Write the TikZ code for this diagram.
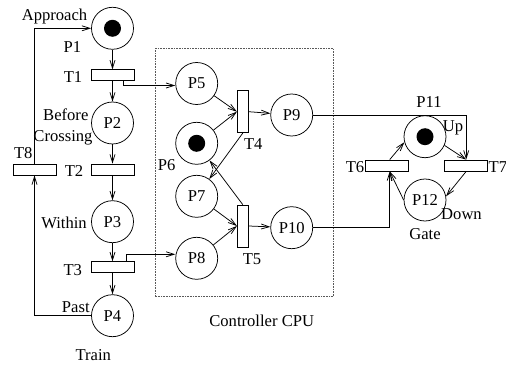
\documentclass[tikz,border=0pt]{standalone}
\usepackage{fontspec}
\setmainfont{Liberation Serif}
\usetikzlibrary{arrows.meta}
\begin{document}
\begin{tikzpicture}[x=1pt,y=-1pt,
  font=\fontsize{16.6}{19}\selectfont,
  line width=0.75pt,
  place/.style={draw,circle,minimum size=42pt,inner sep=0pt},
  htrans/.style={draw,rectangle,minimum width=43pt,minimum height=11pt,inner sep=0pt},
  vtrans/.style={draw,rectangle,minimum width=11pt,minimum height=42pt,inner sep=0pt},
  token/.style={fill,circle,minimum size=17pt,inner sep=0pt},
  lbl/.style={anchor=base,inner sep=0pt},
  arr/.style={-{Straight Barb[length=8pt,width=5pt]}},
]
\useasboundingbox (0,0) rectangle (506,366);

% controller boundary
\draw[dash pattern=on 0.8pt off 0.8pt, gray!70!black, line width=1pt] (155,48.3) rectangle (333.3,296.7);

% places
\node[place] (P1) at (112.5,28.3) {};
\node[token] (K1) at (P1) {};
\node[place] (P2) at (112.5,123) {P2};
\node[place] (P3) at (112.5,221.7) {P3};
\node[place] (P4) at (112.5,315.7) {P4};
\node[place] (P5) at (196.7,83.5) {P5};
\node[place] (P6) at (196.7,143.3) {};
\node[token] (K6) at (P6) {};
\node[place] (P7) at (196.7,196.3) {P7};
\node[place] (P8) at (196.7,258.3) {P8};
\node[place] (P9) at (291.7,115) {P9};
\node[place] (P10) at (291.7,227.7) {P10};
\node[place] (P11) at (425,136.7) {};
\node[token] (K11) at (P11) {};
\node[place] (P12) at (425,200) {P12};

% transitions
\node[htrans] (T1) at (112.5,75.3) {};
\node[htrans] (T2) at (112.5,169.5) {};
\node[htrans] (T3) at (112.5,267.2) {};
\node[htrans] (T8) at (34.5,169.5) {};
\node[vtrans] (T4) at (242.8,111.7) {};
\node[vtrans] (T5) at (242.8,226) {};
\node[htrans] (T6) at (386.7,165.5) {};
\node[htrans] (T7) at (466.2,165.5) {};

% labels
\node[lbl] (lApp) at (54.5,20.5) {Approach};
\node[lbl] (lP1) at (72.5,52.7) {P1};
\node[lbl] (lT1) at (73,83) {T1};
\node[lbl] (lBef) at (65.8,121) {Before};
\node[lbl] (lCro) at (63,142) {Crossing};
\node[lbl] (lT8) at (23.3,159) {T8};
\node[lbl] (lT2) at (74,176.5) {T2};
\node[lbl] (lWit) at (64,228.3) {Within};
\node[lbl] (lT3) at (72.8,275) {T3};
\node[lbl] (lPas) at (75.8,312.7) {Past};
\node[lbl] (lTra) at (93.3,360.7) {Train};
\node[lbl] (lP6) at (166.7,171) {P6};
\node[lbl] (lT4) at (253.3,150) {T4};
\node[lbl] (lT5) at (252,265) {T5};
\node[lbl] (lCPU) at (261.7,326.7) {Controller CPU};
\node[lbl] (lP11) at (429,107.3) {P11};
\node[lbl] (lUp) at (453,131.7) {Up};
\node[lbl] (lT6) at (355,172.7) {T6};
\node[lbl,anchor=base west] (lT7) at (488.3,172.7) {T7};
\node[lbl] (lDown) at (461.5,220) {Down};
\node[lbl] (lGate) at (425,240) {Gate};

% train net
\draw[arr] (P1) -- (T1);
\draw[arr] (T1) -- (P2);
\draw[arr] (P2) -- (T2);
\draw[arr] (T2) -- (P3);
\draw[arr] (P3) -- (T3);
\draw[arr] (T3) -- (P4);
\draw[arr] (P4.west) -| (T8.south);
\draw[arr] (T8.north) |- (P1.west);

% train to controller
\draw[arr] ([xshift=11pt]T1.south) |- ([yshift=-2pt]P5.west);
\draw[arr] ([xshift=14pt]T3.north) |- ([yshift=4pt]P8.west);

% controller net
\draw[arr] (P5) -- (T4.west);
\draw[arr] (P6) -- (T4.west);
\draw[arr] (T4.east) -- (P9);
\draw[arr] (T4.south) -- (P7);
\draw[arr] (T5.north) -- (P6);
\draw[arr] (P7) -- (T5.west);
\draw[arr] (P8) -- (T5.west);
\draw[arr] (T5.east) -- (P10);

% controller to gate
\draw[arr] (P9.east) -| (T7.north);
\draw[arr] (P10.east) -| ([xshift=3pt]T6.south);

% gate net
\draw[arr] ([xshift=3pt]T6.north) -- (P11.195);
\draw[arr] (P11.-24) -- (T7.north);
\draw[arr] (T7.south) -- (P12.10);
\draw[arr] (P12.180) -- ([xshift=3pt]T6.south);
\end{tikzpicture}
\end{document}
